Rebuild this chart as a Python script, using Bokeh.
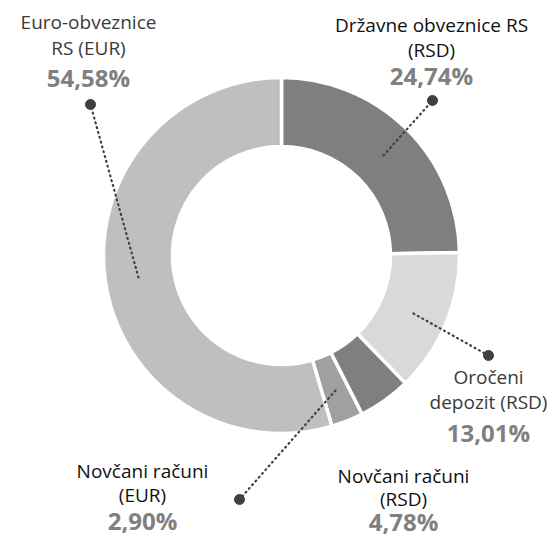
import math
from bokeh.plotting import figure
from bokeh.models import Range1d, ColumnDataSource
from bokeh.core.properties import value
from bokeh.embed import file_html
from bokeh.resources import INLINE

# ---- data ----
categories = ["Državne obveznice RS (RSD)", "Oročeni depozit (RSD)",
              "Novčani računi (RSD)", "Novčani računi (EUR)", "Euro-obveznice RS (EUR)"]
shares = [24.74, 13.01, 4.78, 2.90, 54.58]
name_lines = [["Državne obveznice RS", "(RSD)"], ["Oročeni", "depozit (RSD)"],
              ["Novčani računi", "(RSD)"], ["Novčani računi", "(EUR)"],
              ["Euro-obveznice", "RS (EUR)"]]
colors = ["#7f7f7f", "#d9d9d9", "#7f7f7f", "#a0a0a0", "#bfbfbf"]

# ---- layout (pixel positions in page coords) ----
W, H = 559, 539
cx, cy = 281, 255
r_out, r_in = 178, 109
label_x = [431, 488, 403, 142, 88]
label_y = [[24, 49, 75], [376, 401, 432], [475, 498, 521], [470, 494, 520], [21, 47, 77]]
name_colors = ["#111111", "#3a3a3a", "#111111", "#111111", "#3a3a3a"]
leader_dot = [(432, 100), (488, 355), None, (239, 499), (90, 104)]
leader_in = [(383, 155), (413, 313), None, (335, 390), (138, 277)]

p = figure(width=W, height=H, output_backend="svg", toolbar_location=None,
           x_range=Range1d(0, W), y_range=Range1d(-H, 0),
           min_border=0)
p.axis.visible = False
p.grid.visible = False
p.outline_line_color = None
p.background_fill_color = "white"
p.border_fill_color = "white"

total = sum(shares)
starts, ends = [], []
cum = 0.0
for v in shares:
    starts.append(math.pi / 2 - 2 * math.pi * cum / total)
    cum += v
    ends.append(math.pi / 2 - 2 * math.pi * cum / total)

src = ColumnDataSource(dict(x=[cx] * len(shares), y=[-cy] * len(shares),
                            start=starts, end=ends, color=colors))
p.annular_wedge(x="x", y="y", inner_radius=r_in, outer_radius=r_out,
                start_angle="start", end_angle="end", direction="clock",
                fill_color="color", line_color="white", line_width=3.5, source=src)

# leader lines
for d, q in zip(leader_dot, leader_in):
    if d is None:
        continue
    p.line([q[0], d[0]], [-q[1], -d[1]], line_color="#404040", line_width=2.2,
           line_dash="1 4", line_cap="round")
    p.scatter([d[0]], [-d[1]], size=10, fill_color="#404040", line_color="#404040")

# labels
for i, v in enumerate(shares):
    lines = name_lines[i]
    for j, t in enumerate(lines):
        p.text([label_x[i]], [-label_y[i][j]], text=[t], text_align="center",
               text_baseline="middle", text_font=value("Open Sans"),
               text_font_size="19px", text_color=name_colors[i])
    pct = ("%.2f" % v).replace(".", ",") + "%"
    p.text([label_x[i]], [-label_y[i][2]], text=[pct], text_align="center",
           text_baseline="middle", text_font=value("Open Sans"),
           text_font_style="bold", text_font_size="24px", text_color="#808080")

open("out.html", "w").write(file_html(p, INLINE))
